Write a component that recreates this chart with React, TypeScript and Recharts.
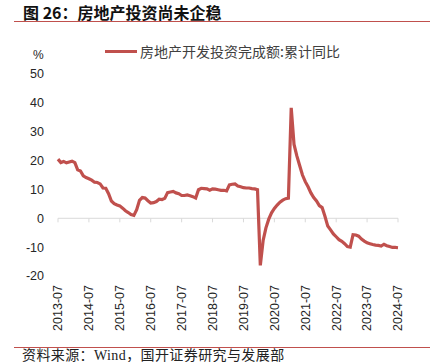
import React from 'react';
import { LineChart, Line, XAxis, YAxis, ReferenceLine } from 'recharts';

const dates = [
  '2013-07','2013-08','2013-09','2013-10','2013-11','2013-12',
  '2014-02','2014-03','2014-04','2014-05','2014-06','2014-07','2014-08','2014-09','2014-10','2014-11','2014-12',
  '2015-02','2015-03','2015-04','2015-05','2015-06','2015-07','2015-08','2015-09','2015-10','2015-11','2015-12',
  '2016-02','2016-03','2016-04','2016-05','2016-06','2016-07','2016-08','2016-09','2016-10','2016-11','2016-12',
  '2017-02','2017-03','2017-04','2017-05','2017-06','2017-07','2017-08','2017-09','2017-10','2017-11','2017-12',
  '2018-02','2018-03','2018-04','2018-05','2018-06','2018-07','2018-08','2018-09','2018-10','2018-11','2018-12',
  '2019-02','2019-03','2019-04','2019-05','2019-06','2019-07','2019-08','2019-09','2019-10','2019-11','2019-12',
  '2020-02','2020-03','2020-04','2020-05','2020-06','2020-07','2020-08','2020-09','2020-10','2020-11','2020-12',
  '2021-02','2021-03','2021-04','2021-05','2021-06','2021-07','2021-08','2021-09','2021-10','2021-11','2021-12',
  '2022-02','2022-03','2022-04','2022-05','2022-06','2022-07','2022-08','2022-09','2022-10','2022-11','2022-12',
  '2023-02','2023-03','2023-04','2023-05','2023-06','2023-07','2023-08','2023-09','2023-10','2023-11','2023-12',
  '2024-02','2024-03','2024-04','2024-05','2024-06','2024-07',
];

const investmentYoY = [
  20.5, 19.3, 19.7, 19.2, 19.5, 19.8,
  19.3, 16.8, 16.4, 14.7, 14.1, 13.7, 13.2, 12.5, 12.4, 11.9, 10.5,
  10.4, 8.5, 6.0, 5.1, 4.6, 4.3, 3.5, 2.6, 2.0, 1.3, 1.0,
  3.0, 6.2, 7.2, 7.0, 6.1, 5.3, 5.4, 5.8, 6.6, 6.5, 6.9,
  8.9, 9.1, 9.3, 8.8, 8.5, 7.9, 7.9, 8.1, 7.8, 7.5, 7.0,
  9.9, 10.4, 10.3, 10.2, 9.7, 10.2, 10.1, 9.9, 9.7, 9.7, 9.5,
  11.6, 11.8, 11.9, 11.2, 10.9, 10.6, 10.5, 10.5, 10.3, 10.2, 9.9,
  -16.3, -7.7, -3.3, -0.3, 1.9, 3.4, 4.6, 5.6, 6.3, 6.8, 7.0,
  38.3, 25.6, 21.6, 18.3, 15.0, 12.7, 10.9, 8.8, 7.2, 6.0, 4.4,
  3.7, 0.7, -2.7, -4.0, -5.4, -6.4, -7.4, -8.0, -8.8, -9.8, -10.0,
  -5.7, -5.8, -6.2, -7.2, -7.9, -8.5, -8.8, -9.1, -9.3, -9.4, -9.6,
  -9.0, -9.5, -9.8, -10.1, -10.1, -10.2,
];

const xTicks = ['2013-07','2014-07','2015-07','2016-07','2017-07','2018-07','2019-07','2020-07','2021-07','2022-07','2023-07','2024-07'];
const yTicks = [-20, -10, 0, 10, 20, 30, 40, 50];

const seriesName = '房地产开发投资完成额:累计同比';
const title = '图 26：房地产投资尚未企稳';
const source = '资料来源：Wind，国开证券研究与发展部';

const data = dates.map((d, i) => ({ date: d, value: investmentYoY[i] }));

const RED = '#C0504D';
const SANS = '"Noto Sans CJK SC", "Liberation Sans", sans-serif';
const LABEL_FONT = '"Liberation Sans", "DejaVu Sans", sans-serif';

const XTick = (props: any) => {
  const { x, y, payload } = props;
  return (
    <text
      x={x}
      y={y + 1}
      dy="0.35em"
      transform={`rotate(-90, ${x}, ${y + 1})`}
      textAnchor="end"
      fontSize={12.5}
      fontFamily={LABEL_FONT}
      fill="#262626"
    >
      {payload.value}
    </text>
  );
};

export default function App() {
  return (
    <div style={{ position: 'absolute', left: 0, top: 0, width: 430, height: 362, background: '#fff', fontFamily: SANS }}>
      <div style={{ position: 'absolute', left: 23, top: 1, fontSize: 16, fontWeight: 700, color: '#111', whiteSpace: 'nowrap', lineHeight: '22px' }}>
        {title}
      </div>
      <div style={{ position: 'absolute', left: 14, top: 21, width: 416, height: 1, background: RED }} />
      <div style={{ position: 'absolute', left: 105, top: 50, width: 32, height: 3, background: RED }} />
      <div style={{ position: 'absolute', left: 140, top: 41, fontSize: 14, color: '#404040', whiteSpace: 'nowrap', lineHeight: '20px' }}>
        {seriesName}
      </div>
      <div style={{ position: 'absolute', left: 33, top: 47, fontSize: 12, color: '#262626', fontFamily: LABEL_FONT, lineHeight: '16px' }}>
        %
      </div>
      <LineChart width={430} height={362} data={data} margin={{ top: 74, right: 32, bottom: 16, left: 0 }}>
        <XAxis
          dataKey="date"
          ticks={xTicks}
          interval={0}
          axisLine={false}
          tickLine={false}
          height={70}
          tick={<XTick />}
        />
        <YAxis
          domain={[-20, 50]}
          ticks={yTicks}
          width={58}
          axisLine={false}
          tickLine={false}
          tickMargin={8}
          tick={{ fontSize: 12.5, fill: '#262626', fontFamily: LABEL_FONT }}
        />
        <ReferenceLine y={0} stroke="#D9D9D9" strokeWidth={1} />
        {xTicks.map((t) => (
          <ReferenceLine
            key={t}
            segment={[{ x: t, y: 0 }, { x: t, y: -1.4 }]}
            stroke="#D9D9D9"
            strokeWidth={1}
          />
        ))}
        <Line
          type="linear"
          dataKey="value"
          stroke={RED}
          strokeWidth={3.2}
          dot={false}
          isAnimationActive={false}
        />
      </LineChart>
      <div style={{ position: 'absolute', left: 14, top: 347, width: 416, height: 1, background: RED }} />
      <div style={{ position: 'absolute', left: 22, top: 347, fontSize: 14, letterSpacing: 0.4, color: '#222', whiteSpace: 'nowrap', lineHeight: '17px', fontFamily: '"Liberation Serif", "Noto Sans CJK SC", serif' }}>
        {source}
      </div>
    </div>
  );
}
